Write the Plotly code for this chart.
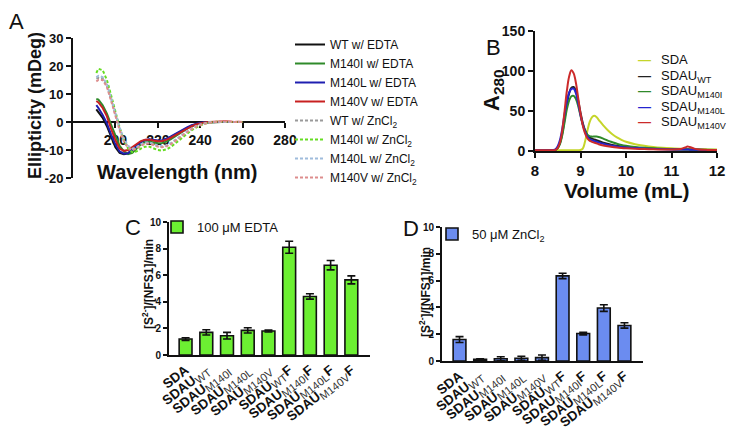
import plotly.graph_objects as go

# The page body has an 8px default margin; coordinates below are window pixels.
OFF = 8
W, H = 740 - OFF, 430 - OFF
FONT = "Liberation Sans, Arial, sans-serif"

# ---------------- Panel A: CD spectra ----------------
wavelength = [191, 192, 194, 196, 198, 200, 202, 204, 206, 208, 210, 212, 214, 216, 218, 220,
              222, 224, 226, 228, 230, 232, 234, 236, 238, 240, 242, 244, 246, 248, 250, 252,
              254, 256, 258, 260]
wt_edta = [4.5, 3.5, 1.5, -1.5, -5.5, -9, -11, -11.5, -11.2, -10, -8.5, -7.2, -6.5, -6.3, -6.5, -6.8,
           -6.7, -6.2, -5.5, -4.6, -3.7, -2.8, -2.0, -1.3, -0.8, -0.4, -0.2, -0.1, 0, 0, 0, 0,
           0, 0, 0, 0]
m140i_edta = [8.2, 8, 6, 3, -1, -5, -8.5, -10.5, -11.5, -11, -9.5, -8, -7.2, -7, -7.3, -7.6,
              -7.5, -7, -6.2, -5.2, -4.2, -3.2, -2.3, -1.6, -1, -0.5, -0.2, -0.1, 0, 0, 0, 0,
              0, 0, 0, 0]
m140l_edta = [6, 5, 2.5, -0.5, -4.5, -8, -10.5, -11.3, -11.2, -10, -8.5, -7.2, -6.4, -6.2, -6.4, -6.6,
              -6.5, -6, -5.2, -4.3, -3.4, -2.5, -1.8, -1.1, -0.6, -0.3, -0.1, 0, 0, 0, 0, 0,
              0, 0, 0, 0]
m140v_edta = [7.5, 7, 5, 2, -2.5, -6.5, -9.5, -10.3, -10, -9, -7.8, -6.8, -6.3, -6.3, -6.6, -6.9,
              -6.8, -6.4, -5.7, -4.8, -3.9, -3, -2.2, -1.5, -0.9, -0.5, -0.2, 0, 0, 0.1, 0.2, 0.3,
              0.1, 0, 0.1, 0]
wt_zn = [15.5, 15.8, 15.5, 13, 8, 2.5, -2.5, -6.5, -9, -9.8, -9.3, -8.3, -7.6, -7.5, -8, -8.6,
         -8.8, -8.5, -7.8, -6.8, -5.7, -4.5, -3.4, -2.4, -1.6, -1, -0.5, -0.2, 0, 0, 0.2, 0,
         0, 0.1, 0, 0]
m140i_zn = [17.5, 19, 18.5, 15, 9.5, 3.5, -2, -6.5, -9.5, -10.8, -10.5, -9.5, -8.8, -8.8, -9.3, -10,
            -10.2, -9.8, -9, -7.8, -6.5, -5.2, -4, -2.9, -2, -1.2, -0.6, -0.2, 0, 0.1, 0, 0,
            0.1, 0, 0, 0]
m140l_zn = [16, 16.5, 16, 13.5, 8.5, 3, -2, -6, -8.5, -9.5, -9, -8, -7.3, -7.3, -7.8, -8.4,
            -8.6, -8.3, -7.6, -6.6, -5.5, -4.3, -3.2, -2.3, -1.5, -0.9, -0.4, -0.1, 0, 0, 0, 0.1,
            0, 0, 0, 0]
m140v_zn = [14.5, 15, 15, 12.5, 7.5, 2, -3, -7, -9.3, -10, -9.5, -8.5, -7.8, -7.7, -8.2, -8.8,
            -9, -8.7, -8, -7, -5.8, -4.6, -3.5, -2.5, -1.7, -1.1, -0.6, -0.3, 0, 0.1, 0.2, 0.3,
            0.2, 0, 0.1, 0]

cd_names = ["WT w/ EDTA", "M140I w/ EDTA", "M140L w/ EDTA", "M140V w/ EDTA",
            "WT w/ ZnCl<sub>2</sub>", "M140I w/ ZnCl<sub>2</sub>", "M140L w/ ZnCl<sub>2</sub>",
            "M140V w/ ZnCl<sub>2</sub>"]
cd_series = [wt_edta, m140i_edta, m140l_edta, m140v_edta, wt_zn, m140i_zn, m140l_zn, m140v_zn]
cd_colors = ["#111111", "#2f8a2a", "#1f1fb0", "#c82020", "#9a9a9a", "#66dd22", "#9fbcdc", "#dd8d8d"]
cd_dash = ["solid"] * 4 + ["3px,2px"] * 4
cd_xticks = [200, 220, 240, 260, 280]
cd_yticks = [-20, -10, 0, 10, 20, 30]

# ---------------- Panel B: SEC traces ----------------
volume = [8.0, 8.2, 8.4, 8.45, 8.5, 8.55, 8.6, 8.65, 8.7, 8.75, 8.8, 8.85, 8.9, 8.95, 9.0, 9.05,
          9.1, 9.15, 9.2, 9.25, 9.3, 9.35, 9.4, 9.5, 9.6, 9.7, 9.8, 9.9, 10.0, 10.2, 10.4, 10.6,
          10.8, 11.0, 11.2, 11.3, 11.35, 11.4, 11.5, 11.6, 11.8, 12.0]
sda = [1, 1, 1, 1, 1, 1, 1, 1, 1, 1, 1, 1, 1, 1, 1.2, 3,
       12, 25, 36, 42, 44, 42.5, 39, 32, 26, 21, 17, 14, 11.5, 8.5, 6.5, 5,
       4, 3.3, 2.8, 2.6, 2.5, 2.5, 2.3, 2.2, 2, 1.8]
sdau_wt = [1, 1, 1, 1.5, 4, 10, 22, 40, 58, 72, 79, 80, 75, 63, 48, 35,
           26, 20, 17, 15.5, 14.5, 13.5, 12.5, 10.5, 9, 7.5, 6.5, 5.5, 5, 4, 3.3, 2.8,
           2.4, 2.1, 1.9, 1.8, 1.8, 1.7, 1.6, 1.5, 1.3, 1.2]
sdau_m140i = [1, 1, 1, 1.4, 3.5, 9, 20, 36, 52, 63, 68.5, 69, 65, 56, 44, 33,
              25, 20.5, 18.5, 18, 18, 18, 17.5, 15.5, 13, 11, 9, 7.5, 6.5, 5, 4, 3.3,
              2.8, 2.4, 2.1, 2, 2, 1.9, 1.8, 1.7, 1.5, 1.3]
sdau_m140l = [1, 1, 1.1, 2, 6, 14, 28, 46, 62, 73, 77.5, 78, 72, 60, 45, 33,
              24, 18, 15, 13.5, 12.5, 11.5, 10.5, 9, 7.5, 6.5, 5.5, 5, 4.5, 3.6, 3, 2.6,
              2.3, 2, 1.9, 1.8, 1.8, 1.7, 1.6, 1.5, 1.3, 1.2]
sdau_m140v = [1, 1, 1, 1.5, 4, 11, 26, 50, 75, 93, 101, 97, 85, 66, 47, 32,
              22, 16, 13, 11.5, 10.5, 9.5, 8.5, 7, 6, 5, 4.3, 3.8, 3.4, 2.8, 2.4, 2.1,
              1.9, 1.8, 2.5, 4.5, 5.5, 5, 3, 1.8, 1.4, 1.2]
sec_names = ["SDA", "SDAU<sub>WT</sub>", "SDAU<sub>M140I</sub>", "SDAU<sub>M140L</sub>",
             "SDAU<sub>M140V</sub>"]
sec_series = [sda, sdau_wt, sdau_m140i, sdau_m140l, sdau_m140v]
sec_colors = ["#c5d52a", "#222222", "#2f8a2a", "#2424d0", "#cc2a2a"]
sec_xticks = [8, 9, 10, 11, 12]
sec_yticks = [0, 50, 100, 150]

# ---------------- Panels C and D: activity bars ----------------
bar_base = ["SDA", "SDAU", "SDAU", "SDAU", "SDAU", "SDAU", "SDAU", "SDAU", "SDAU"]
bar_sub = ["", "WT", "M140I", "M140L", "M140V", "WT", "M140I", "M140L", "M140V"]
bar_suffix = ["", "", "", "", "", "F", "F", "F", "F"]
edta_rate = [1.2, 1.7, 1.45, 1.85, 1.8, 8.1, 4.4, 6.75, 5.65]
edta_err = [0.1, 0.2, 0.25, 0.2, 0.07, 0.45, 0.2, 0.35, 0.3]
zn_rate = [1.6, 0.12, 0.17, 0.2, 0.25, 6.35, 2.05, 3.95, 2.65]
zn_err = [0.22, 0.05, 0.15, 0.15, 0.2, 0.2, 0.1, 0.25, 0.2]
rate_yticks = [0, 2, 4, 6, 8, 10]


def bar_label(base, sub, suffix):
    s = "<b>%s</b>" % base
    if sub:
        s += '<sub><span style="font-size:11px;color:#333333">%s</span></sub>' % sub
    if suffix:
        s += "<b>%s</b>" % suffix
    return s


bar_labels = [bar_label(b, s, f) for b, s, f in zip(bar_base, bar_sub, bar_suffix)]

fig = go.Figure()

for name, ys, col, dash in zip(cd_names, cd_series, cd_colors, cd_dash):
    fig.add_trace(go.Scatter(x=wavelength, y=ys, mode="lines", name=name,
                             line=dict(color=col, width=2, dash=dash),
                             xaxis="x", yaxis="y", legend="legend"))

for name, ys, col in zip(sec_names, sec_series, sec_colors):
    fig.add_trace(go.Scatter(x=volume, y=ys, mode="lines", name=name, showlegend=False,
                             line=dict(color=col, width=2, shape="spline"),
                             xaxis="x2", yaxis="y2"))

fig.add_trace(go.Bar(x=bar_labels, y=edta_rate, name="100 \u03bcM EDTA", width=0.62,
                     marker=dict(color="#6cef32", line=dict(color="#111111", width=1.6)),
                     error_y=dict(type="data", array=edta_err, color="#111111",
                                  thickness=1.6, width=4),
                     xaxis="x3", yaxis="y3", legend="legend3"))
fig.add_trace(go.Bar(x=bar_labels, y=zn_rate, name="50 \u03bcM ZnCl<sub>2</sub>", width=0.62,
                     marker=dict(color="#6b8cf0", line=dict(color="#111111", width=1.6)),
                     error_y=dict(type="data", array=zn_err, color="#111111",
                                  thickness=1.6, width=4),
                     xaxis="x4", yaxis="y4", legend="legend4"))


def px_x(p):
    """window pixel (reference coords) -> paper fraction"""
    return (p - OFF) / W


def px_y(p):
    return 1 - (p - OFF) / H


def bold(vals):
    return ["<b>%s</b>" % v for v in vals]


axis_common = dict(showgrid=False, zeroline=False, showline=True, linecolor="#111111",
                   linewidth=2, ticks="outside", tickcolor="#111111", tickwidth=2,
                   automargin=False)

yA = [px_y(178), px_y(38)]
posA = yA[0] + (0 - (-20)) / 50 * (yA[1] - yA[0])

fig.update_layout(
    width=W, height=H, margin=dict(l=0, r=0, t=0, b=0),
    paper_bgcolor="white", plot_bgcolor="rgba(0,0,0,0)",
    font=dict(family=FONT, color="#111111"),
    xaxis=dict(domain=[px_x(73), px_x(285)], range=[180, 280], anchor="free", position=posA,
               tickvals=cd_xticks, ticktext=bold(cd_xticks), ticklen=5, layer="below traces",
               tickfont=dict(size=14), **axis_common),
    yaxis=dict(domain=yA, range=[-20, 30], anchor="x", ticklen=5,
               tickvals=cd_yticks, ticktext=bold(cd_yticks),
               tickfont=dict(size=13), **axis_common),
    xaxis2=dict(domain=[px_x(535), px_x(717)], range=[8, 12], anchor="y2", ticklen=5,
                tickvals=sec_xticks, ticktext=bold(sec_xticks),
                tickfont=dict(size=15), **axis_common),
    yaxis2=dict(domain=[px_y(151), px_y(31)], range=[0, 150], anchor="x2", ticklen=5,
                tickvals=sec_yticks, ticktext=bold(sec_yticks),
                tickfont=dict(size=14), **axis_common),
    xaxis3=dict(domain=[px_x(169), px_x(370)], range=[-0.8, 8.9], anchor="y3",
                type="category", tickangle=-38,
                tickfont=dict(size=13.5), **{**axis_common, "ticks": ""}),
    yaxis3=dict(domain=[px_y(355), px_y(222)], range=[0, 10], anchor="x3", ticklen=4,
                tickvals=rate_yticks, ticktext=bold(rate_yticks),
                tickfont=dict(size=10), **axis_common),
    xaxis4=dict(domain=[px_x(442), px_x(643)], range=[-0.85, 8.9], anchor="y4",
                type="category", tickangle=-38,
                tickfont=dict(size=13.5), **{**axis_common, "ticks": ""}),
    yaxis4=dict(domain=[px_y(361), px_y(227)], range=[0, 10], anchor="x4", ticklen=4,
                tickvals=rate_yticks, ticktext=bold(rate_yticks),
                tickfont=dict(size=10), **axis_common),
    legend=dict(x=px_x(290), y=px_y(30), xanchor="left", yanchor="top", itemwidth=30,
                font=dict(size=12), bgcolor="rgba(0,0,0,0)", tracegroupgap=0),
    legend3=dict(x=px_x(157), y=px_y(212), xanchor="left", yanchor="top", itemwidth=30,
                 font=dict(size=13), bgcolor="rgba(0,0,0,0)"),
    legend4=dict(x=px_x(432), y=px_y(219), xanchor="left", yanchor="top", itemwidth=30,
                 font=dict(size=13), bgcolor="rgba(0,0,0,0)"),
    bargap=0.35,
)

annotations = [
    # panel letters
    dict(text="A", x=px_x(OFF), y=px_y(OFF), xanchor="left", yanchor="top", borderpad=0,
         font=dict(size=22)),
    dict(text="B", x=px_x(493), y=px_y(47), font=dict(size=22)),
    dict(text="C", x=px_x(133), y=px_y(227), font=dict(size=22)),
    dict(text="D", x=px_x(411), y=px_y(228), font=dict(size=22)),
    # axis titles
    dict(text="<b>Ellipticity (mDeg)</b>", x=px_x(35), y=px_y(106), textangle=-90,
         font=dict(size=18)),
    dict(text="<b>Wavelength (nm)</b>", x=px_x(177), y=px_y(172), font=dict(size=20)),
    dict(text="<b>A<sub>280</sub></b>", x=px_x(493), y=px_y(90), textangle=-90,
         font=dict(size=22)),
    dict(text="<b>Volume (mL)</b>", x=px_x(627), y=px_y(190), font=dict(size=21)),
    dict(text="<b>[S<sup>2-</sup>]/[NFS1]/min</b>", x=px_x(148), y=px_y(284), textangle=-90,
         font=dict(size=12)),
    dict(text="<b>[S<sup>2-</sup>]/[NFS1]/min</b>", x=px_x(425), y=px_y(292), textangle=-90,
         font=dict(size=12)),
]
for a in annotations:
    a.setdefault("yanchor", "middle")
    a.setdefault("xanchor", "center")

# compact legend for panel B (swatch + label per series), aligned by text top
sec_legend_rows = [59, 74.5, 90, 105.5, 121]
for name, col, row in zip(sec_names, sec_colors, sec_legend_rows):
    annotations.append(dict(text='<b>\u2014</b>', x=px_x(644), y=px_y(row - 8),
                            xanchor="center", yanchor="top", borderpad=0,
                            font=dict(size=13, color=col)))
    annotations.append(dict(text=name, x=px_x(660), y=px_y(row - 8), xanchor="left",
                            yanchor="top", borderpad=0, font=dict(size=13)))
for a in annotations:
    a.update(xref="paper", yref="paper", showarrow=False)
    fig.add_annotation(**a)

fig.write_html("out.html")
